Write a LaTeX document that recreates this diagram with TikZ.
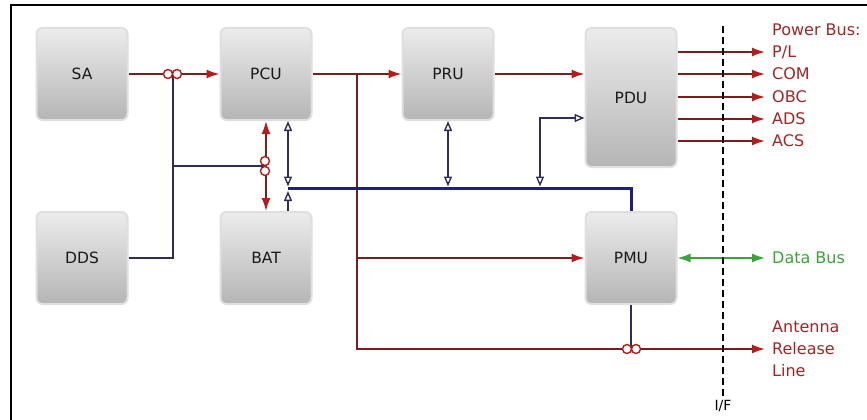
\documentclass[tikz,border=0pt]{standalone}
\usepackage{fontspec}
\setmainfont{DejaVu Sans}
\usetikzlibrary{arrows.meta}
\definecolor{pwrline}{RGB}{120,30,30}
\definecolor{pwrtip}{RGB}{185,25,25}
\definecolor{pwrtext}{RGB}{165,35,35}
\definecolor{busblue}{RGB}{30,30,130}
\definecolor{sigline}{RGB}{45,45,90}
\definecolor{datagreen}{RGB}{55,165,55}
\tikzset{
  ptip/.tip={Latex[length=13pt,width=9pt,color=pwrtip]},
  otip/.tip={Triangle[length=10pt,width=8pt,fill=white]},
  gtip/.tip={Latex[length=13pt,width=9pt]},
  unit/.style={minimum width=91pt, minimum height=92pt, rounded corners=6pt,
    draw=gray!25, line width=2pt, top color=gray!15, bottom color=gray!58,
    font=\fontsize{15.5}{18}\selectfont, text=black!90},
  pwr/.style={draw=pwrline, line width=1.8pt, -ptip},
  sig/.style={draw=sigline, line width=1.4pt},
  bus/.style={draw=busblue, line width=3pt},
  cpl/.style={draw=pwrtip, fill=white, line width=1.4pt},
  lbl/.style={anchor=west, inner sep=2pt, text=pwrtext, font=\fontsize{16}{22}\selectfont, align=left}
}
\begin{document}
\begin{tikzpicture}[x=1pt, y=-1pt]
\useasboundingbox (0,0) rectangle (867,420);
\draw[line width=1.8pt] (11,420) -- (11,5) -- (867,5);
% units
\node[unit] (sa) at (82,74) {SA};
\node[unit] (pcu) at (266,74) {PCU};
\node[unit] (pru) at (448,74) {PRU};
\node[unit, minimum height=139pt] (pdu) at (631,97.5) {PDU};
\node[unit] (dds) at (82,258) {DDS};
\node[unit] (bat) at (266,258) {BAT};
\node[unit] (pmu) at (631,258) {PMU};
% outside labels
\node[lbl] (pbus) at (770,30) {Power Bus:};
\node[lbl] (pl) at (770,52) {P/L};
\node[lbl] (com) at (770,74) {COM};
\node[lbl] (obc) at (770,97) {OBC};
\node[lbl] (ads) at (770,119) {ADS};
\node[lbl] (acs) at (770,141) {ACS};
\node[lbl, text=datagreen] (dbus) at (770,258) {Data Bus};
\node[lbl] (arl) at (770,349) {Antenna\\Release\\Line};
\node[font=\fontsize{14}{17}\selectfont] (iflbl) at (723,406) {I/F};
% junction points
\coordinate (sj) at (173,74);
\coordinate (dj) at (173,166);
\coordinate (bj) at (265,166);
\coordinate (pj) at (357,74);
\coordinate (pm) at (357,258);
\coordinate (bl) at (288,188);
\coordinate (br) at (631,188);
\coordinate (pq) at (540,188);
\coordinate (pk) at (540,118);
\coordinate (ifT) at (723,26);
% DDS lines
\draw[sig] (dds.east) -| (sj);
\draw[sig] (dj) -- (bj);
% power lines
\draw[pwr] (sa) -- (pcu);
\draw[pwr] (pcu) -- (pru);
\draw[pwr] (pru.east) -- (pru.east -| pdu.west);
\draw[pwr, ptip-ptip] (pcu.south) -- (bat.north);
\draw[pwr, shorten >=5pt] (pj) |- (arl.west);
\draw[pwr] (pm) -- (pmu.west);
\foreach \t in {pl,com,obc,ads,acs}
  \draw[pwr, shorten >=5pt] (\t.west -| pdu.east) -- (\t.west);
% data bus
\draw[bus] (bl) -- (br) -- (br |- pmu.north);
\draw[sig, otip-otip] (pcu.south -| bl) -- ([yshift=1.5pt]bl);
\draw[sig, -otip] (bat.north -| bl) -- ([yshift=-3pt]bl);
\draw[sig, otip-otip] (pru.south) -- ([yshift=1.5pt]pru.south |- bl);
\draw[sig, otip-otip] ([yshift=1.5pt]pq) -- (pk) -- (pk -| pdu.west);
\draw[sig] (pmu.south) -- (pmu.south |- arl.west);
\draw[line width=1.4pt, datagreen, gtip-gtip, shorten >=5pt] (pmu.east) -- (dbus.west);
% couplers
\draw[cpl] (168,74) circle (4.5) (177,74) circle (4.5);
\draw[cpl] (265,161) circle (4.5) (265,171) circle (4.5);
\draw[cpl] (627,349) circle (4.5) (636,349) circle (4.5);
% interface
\draw[line width=1.4pt, dash pattern=on 7pt off 4pt] (ifT) -- (iflbl.north);
\end{tikzpicture}
\end{document}
